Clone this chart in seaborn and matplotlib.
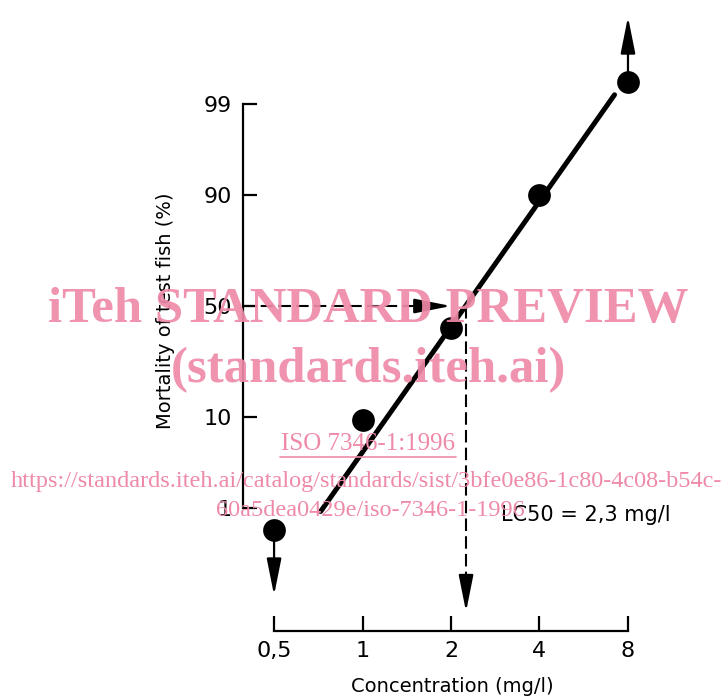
import numpy as np
import matplotlib
matplotlib.use('Agg')
import matplotlib.pyplot as plt
import seaborn as sns
from statistics import NormalDist

# datos
conc = [0.5, 1, 2, 4, 8]
mortality = [0.5, 9.5, 40, 90, 99.5]
fit_conc = [0.72, 7.2]
fit_mort = [0.9, 99.25]
lc50 = 2.25
x_ticks = [0.5, 1, 2, 4, 8]
x_ticklabels = ['0,5', '1', '2', '4', '8']
y_ticks = [1, 10, 50, 90, 99]
y_ticklabels = ['1', '10', '50', '90', '99']

nd = NormalDist()


def probit(p):
    p = np.clip(np.asarray(p, dtype=float) / 100.0, 1e-9, 1 - 1e-9)
    return np.vectorize(nd.inv_cdf, otypes=[float])(p)


def inv_probit(z):
    return np.vectorize(nd.cdf, otypes=[float])(np.asarray(z, dtype=float)) * 100.0


sns.set_theme(style='white')
plt.rcParams['font.family'] = ['DejaVu Sans']

fig = plt.figure(figsize=(7.25, 6.96), dpi=100)
ax = fig.add_axes([243 / 725, 1 - 631 / 696, 397 / 725, 626 / 696])

ax.set_xscale('log', base=2)
ax.set_yscale('function', functions=(probit, inv_probit))
ax.set_xlim(0.392, 8.79)
ax.set_ylim(float(inv_probit(-3.742)), float(inv_probit(3.466)))

# linea ajustada y puntos
sns.lineplot(x=fit_conc, y=fit_mort, color='black', linewidth=3.6, ax=ax, zorder=3)
sns.scatterplot(x=conc, y=mortality, color='black', s=230, edgecolor='black', ax=ax, zorder=4)

arrow = '-|>,head_length=1.6,head_width=0.32'
aprops = dict(arrowstyle=arrow, color='black', lw=1.6, shrinkA=0, shrinkB=0, mutation_scale=14)
dash = (0, (6, 2.5))

# flechas de 0 % y 100 %
ax.annotate('', xy=(conc[0], float(inv_probit(-3.33))), xytext=(conc[0], mortality[0]),
            arrowprops=aprops)
ax.annotate('', xy=(conc[-1], float(inv_probit(3.33))), xytext=(conc[-1], mortality[-1]),
            arrowprops=aprops)

# lineas LC50 discontinuas
sns.lineplot(x=[0.392, 1.8], y=[50, 50], color='black', linewidth=1.5,
             linestyle=dash, ax=ax, estimator=None, sort=False)
ax.annotate('', xy=(2.0, 50), xytext=(1.78, 50), arrowprops=aprops)
sns.lineplot(x=[lc50, lc50], y=[50, float(inv_probit(-3.12))], color='black', linewidth=1.5,
             linestyle=dash, ax=ax, estimator=None, sort=False)
ax.annotate('', xy=(lc50, float(inv_probit(-3.52))), xytext=(lc50, float(inv_probit(-3.12))),
            arrowprops=aprops)

ax.text(5.76, 0.8, 'LC50 = 2,3 mg/l', fontsize=15, ha='center', va='center', color='black')

# ejes
ax.set_xticks(x_ticks)
ax.set_xticklabels(x_ticklabels)
ax.set_yticks(y_ticks)
ax.set_yticklabels(y_ticklabels)
ax.minorticks_off()
ax.tick_params(axis='both', direction='in', color='black', width=1.6, labelsize=16,
               labelcolor='black')
ax.tick_params(axis='x', length=11, pad=7, bottom=True)
ax.tick_params(axis='y', length=10, pad=8, left=True)
for s in ['top', 'right']:
    ax.spines[s].set_visible(False)
ax.spines['left'].set_bounds(1, 99)
ax.spines['bottom'].set_bounds(0.5, 8)
for s in ['left', 'bottom']:
    ax.spines[s].set_color('black')
    ax.spines[s].set_linewidth(1.6)

ax.set_xlabel('Concentration (mg/l)', fontsize=14, color='black', labelpad=12, x=0.526)
ax.set_ylabel('Mortality of test fish (%)', fontsize=14, color='black')
ax.yaxis.set_label_coords(-0.171, 0.511)
ax.grid(False)

# marca de agua
pink = '#ee8aa8'
serif = ['Liberation Serif', 'DejaVu Serif']
fig.text(368 / 725, 1 - 310 / 696, 'iTeh STANDARD PREVIEW', fontsize=36.5, fontweight='bold',
         family=serif, color=pink, ha='center', va='center', zorder=10, alpha=0.92)
fig.text(368 / 725, 1 - 370 / 696, '(standards.iteh.ai)', fontsize=36.5, fontweight='bold',
         family=serif, color=pink, ha='center', va='center', zorder=10, alpha=0.92)
fig.text(368 / 725, 1 - 444 / 696, 'ISO 7346-1:1996', fontsize=18,
         family=serif, color=pink, ha='center', va='center', zorder=10)
fig.add_artist(plt.Line2D([280 / 725, 456 / 725], [1 - 457 / 696, 1 - 457 / 696],
                          color=pink, lw=1.2, zorder=10))
fig.text(366 / 725, 1 - 482 / 696,
         'https://standards.iteh.ai/catalog/standards/sist/3bfe0e86-1c80-4c08-b54c-',
         fontsize=17.5, family=serif, color=pink, ha='center', va='center', zorder=10)
fig.text(370 / 725, 1 - 510 / 696, '60a5dea0429e/iso-7346-1-1996', fontsize=17.5,
         family=serif, color=pink, ha='center', va='center', zorder=10)

fig.savefig('out.png', dpi=100)
